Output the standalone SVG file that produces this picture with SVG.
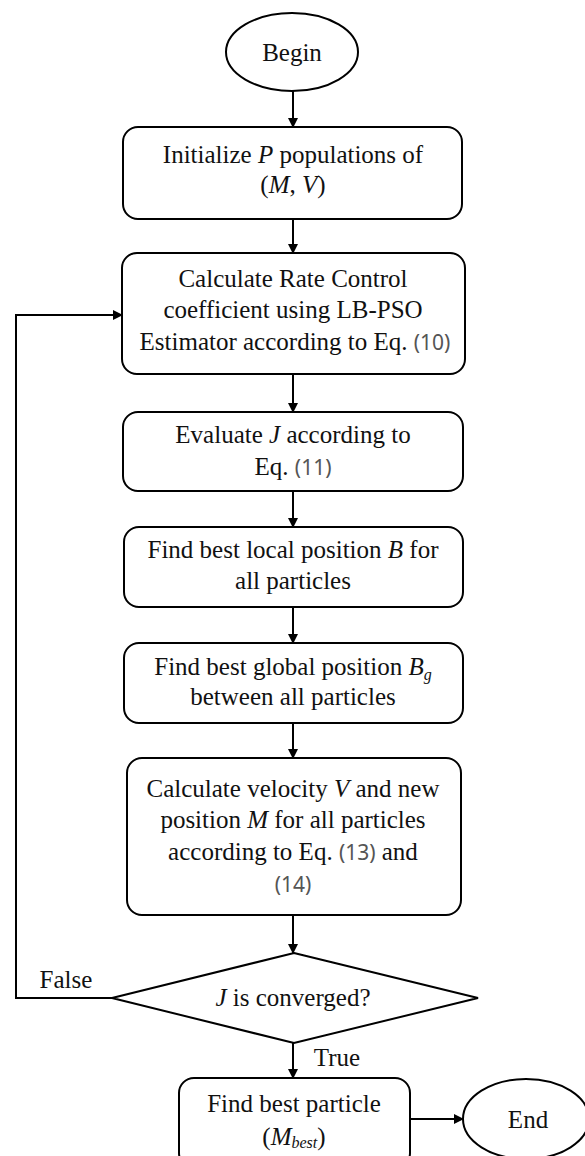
<svg xmlns="http://www.w3.org/2000/svg" width="585" height="1156" viewBox="0 0 585 1156">
<style>
.shape{fill:#fff;stroke:#000;stroke-width:2}
.t{font-family:"Liberation Serif","Times New Roman",serif;font-size:25px;fill:#111;text-anchor:middle}
.i{font-style:italic}
.n{font-family:"Noto Sans","Open Sans",sans-serif;font-size:21px;fill:#555}
.sub{font-size:16px;font-style:italic}
.c{fill:none;stroke:#000;stroke-width:2}
</style>
<defs>
<marker id="ah" markerWidth="10" markerHeight="10" refX="9" refY="5" orient="auto" markerUnits="userSpaceOnUse">
<path d="M0,0 L10,5 L0,10 z" fill="#000"/>
</marker>
</defs>
<rect width="585" height="1156" fill="#fff"/>
<g id="connectors">
<line class="c" x1="293" y1="91" x2="293" y2="127" marker-end="url(#ah)"/>
<line class="c" x1="293" y1="219" x2="293" y2="253" marker-end="url(#ah)"/>
<line class="c" x1="293" y1="374" x2="293" y2="412" marker-end="url(#ah)"/>
<line class="c" x1="293" y1="491" x2="293" y2="527" marker-end="url(#ah)"/>
<line class="c" x1="293" y1="607" x2="293" y2="643" marker-end="url(#ah)"/>
<line class="c" x1="293" y1="723" x2="293" y2="758" marker-end="url(#ah)"/>
<line class="c" x1="293" y1="915" x2="293" y2="953" marker-end="url(#ah)"/>
<line class="c" x1="293" y1="1043" x2="293" y2="1078" marker-end="url(#ah)"/>
<polyline class="c" points="112,998 16,998 16,315 122,315" marker-end="url(#ah)"/>
<line class="c" x1="410" y1="1119" x2="463" y2="1119" marker-end="url(#ah)"/>
<text class="t" x="66" y="988">False</text>
<text class="t" x="337" y="1066">True</text>
</g>
<g id="begin">
<ellipse class="shape" cx="292" cy="52" rx="66" ry="39"/>
<text class="t" x="292" y="61">Begin</text>
</g>
<g id="init">
<rect class="shape" x="123" y="127" width="339" height="92" rx="15"/>
<text class="t" x="293" y="163">Initialize <tspan class="i">P</tspan> populations of</text>
<text class="t" x="293" y="193">(<tspan class="i">M</tspan>, <tspan class="i">V</tspan>)</text>
</g>
<g id="rate">
<rect class="shape" x="122" y="253" width="343" height="121" rx="15"/>
<text class="t" x="293" y="287">Calculate Rate Control</text>
<text class="t" x="293" y="318">coefficient using LB-PSO</text>
<text class="t" x="295" y="350">Estimator according to Eq. <tspan class="n">(10)</tspan></text>
</g>
<g id="evaluate">
<rect class="shape" x="123" y="412" width="340" height="79" rx="15"/>
<text class="t" x="293" y="443">Evaluate <tspan class="i">J</tspan> according to</text>
<text class="t" x="293" y="475">Eq.  <tspan class="n">(11)</tspan></text>
</g>
<g id="local">
<rect class="shape" x="124" y="527" width="339" height="80" rx="15"/>
<text class="t" x="293" y="558">Find best local position <tspan class="i">B</tspan> for</text>
<text class="t" x="293" y="589">all particles</text>
</g>
<g id="global">
<rect class="shape" x="124" y="643" width="339" height="80" rx="15"/>
<text class="t" x="293" y="675">Find best global position <tspan class="i">B</tspan><tspan class="sub" dy="5">g</tspan></text>
<text class="t" x="293" y="705">between all particles</text>
</g>
<g id="velocity">
<rect class="shape" x="127" y="758" width="334" height="157" rx="15"/>
<text class="t" x="293" y="797">Calculate velocity <tspan class="i">V</tspan> and new</text>
<text class="t" x="293" y="828">position <tspan class="i">M</tspan> for all particles</text>
<text class="t" x="293" y="860">according to Eq. <tspan class="n">(13)</tspan>  and</text>
<text class="t" x="293" y="892"><tspan class="n">(14)</tspan></text>
</g>
<g id="converged">
<polygon class="shape" points="294,953 478,998 294,1043 112,998"/>
<text class="t" x="293" y="1006"><tspan class="i">J</tspan> is converged?</text>
</g>
<g id="best">
<rect class="shape" x="179" y="1078" width="231" height="90" rx="15"/>
<text class="t" x="294" y="1112">Find best particle</text>
<text class="t" x="294" y="1145">(<tspan class="i">M</tspan><tspan class="sub" dy="3">best</tspan><tspan dy="-3">)</tspan></text>
</g>
<g id="end">
<ellipse class="shape" cx="526" cy="1119" rx="63" ry="40"/>
<text class="t" x="528" y="1128">End</text>
</g>
</svg>
